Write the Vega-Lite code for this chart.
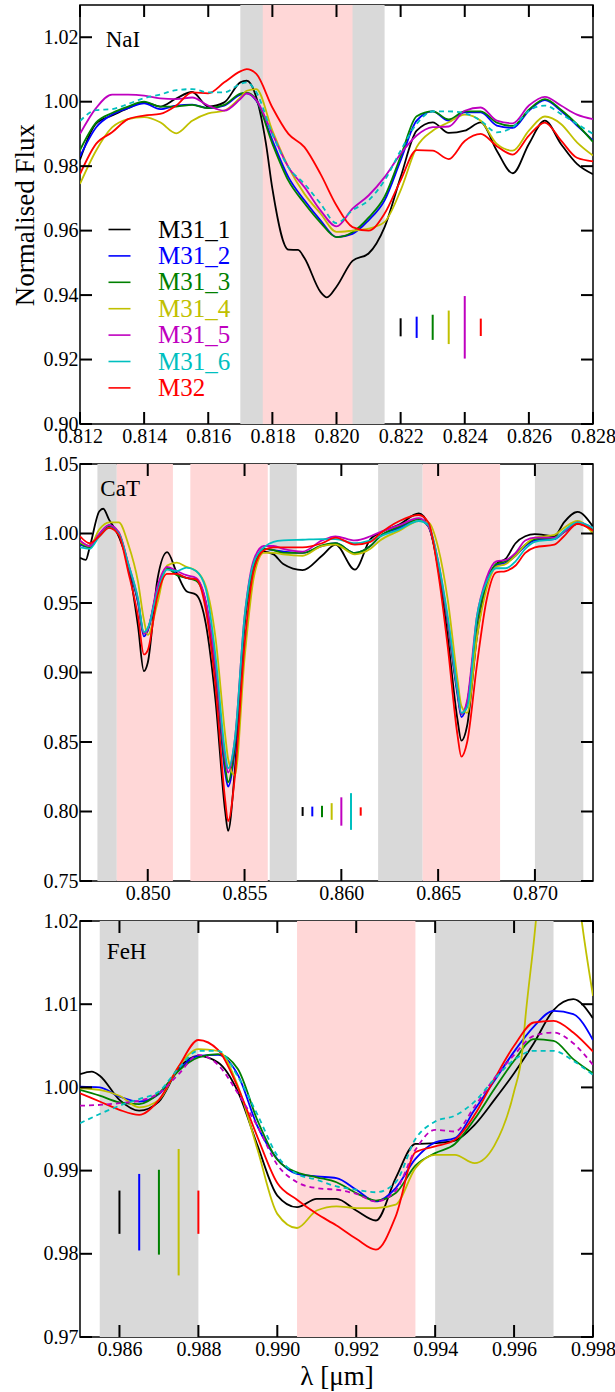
{
  "$schema": "https://vega.github.io/schema/vega-lite/v6.json",
  "padding": {"left": 10, "top": 4, "right": 5, "bottom": 5},
  "background": "white",
  "config": {
    "font": "Liberation Serif",
    "view": {"stroke": "black", "strokeWidth": 1.5},
    "axis": {"labelFont": "Liberation Serif", "titleFont": "Liberation Serif", "labelFontSize": 20, "titleFontSize": 27, "titleFontWeight": "normal", "labelColor": "black", "titleColor": "black", "domain": false, "ticks": false, "grid": false, "labelFlush": false, "labelOverlap": false, "labelPadding": 2}
  },
  "datasets": {
    "nai": [
      {"x": 0.812, "M31_1": 0.982, "M31_2": 0.983, "M31_3": 0.985, "M31_4": 0.9745, "M31_5": 0.990, "M31_6": 0.994, "M32": 0.9775},
      {"x": 0.8125, "M31_1": 0.9932, "M31_2": 0.992, "M31_3": 0.9935, "M31_4": 0.9848, "M31_5": 0.998, "M31_6": 0.9974, "M32": 0.9869},
      {"x": 0.813, "M31_1": 0.9957, "M31_2": 0.996, "M31_3": 0.9965, "M31_4": 0.992, "M31_5": 1.0022, "M31_6": 0.9977, "M32": 0.9905},
      {"x": 0.8135, "M31_1": 0.998, "M31_2": 0.998, "M31_3": 0.9985, "M31_4": 0.9946, "M31_5": 1.0022, "M31_6": 0.9993, "M32": 0.9946},
      {"x": 0.814, "M31_1": 0.9998, "M31_2": 0.9995, "M31_3": 1.0, "M31_4": 0.9952, "M31_5": 1.0019, "M31_6": 1.0011, "M32": 0.9957},
      {"x": 0.8145, "M31_1": 0.9985, "M31_2": 0.9977, "M31_3": 0.9985, "M31_4": 0.9936, "M31_5": 1.001, "M31_6": 1.0022, "M32": 0.9962},
      {"x": 0.815, "M31_1": 1.001, "M31_2": 0.9988, "M31_3": 0.9985, "M31_4": 0.9902, "M31_5": 1.0008, "M31_6": 1.0036, "M32": 0.9988},
      {"x": 0.8155, "M31_1": 1.003, "M31_2": 0.9991, "M31_3": 0.999, "M31_4": 0.9941, "M31_5": 1.0013, "M31_6": 1.0039, "M32": 1.0029},
      {"x": 0.816, "M31_1": 0.9985, "M31_2": 0.998, "M31_3": 0.998, "M31_4": 0.9964, "M31_5": 0.9988, "M31_6": 1.0029, "M32": 1.0026},
      {"x": 0.8165, "M31_1": 0.9998, "M31_2": 0.9988, "M31_3": 0.999, "M31_4": 0.9972, "M31_5": 0.9972, "M31_6": 1.0029, "M32": 1.006},
      {"x": 0.817, "M31_1": 1.006, "M31_2": 1.0022, "M31_3": 1.0025, "M31_4": 1.0013, "M31_5": 1.0008, "M31_6": 1.0055, "M32": 1.0094},
      {"x": 0.8172, "M31_1": 1.0065, "M31_2": 1.0026, "M31_3": 1.0028, "M31_4": 1.0034, "M31_5": 1.0026, "M31_6": 1.006, "M32": 1.0101},
      {"x": 0.8175, "M31_1": 1.0013, "M31_2": 1.0003, "M31_3": 1.0005, "M31_4": 1.0039, "M31_5": 1.0005, "M31_6": 1.0029, "M32": 1.0086},
      {"x": 0.8178, "M31_1": 0.987},
      {"x": 0.818, "M31_1": 0.973, "M31_2": 0.988, "M31_3": 0.987, "M31_4": 0.991, "M31_5": 0.990, "M31_6": 0.990, "M32": 0.9982},
      {"x": 0.8185, "M31_1": 0.9541, "M31_2": 0.9766, "M31_3": 0.9755, "M31_4": 0.9797, "M31_5": 0.9797, "M31_6": 0.9797, "M32": 0.990},
      {"x": 0.8188, "M31_1": 0.954},
      {"x": 0.819, "M31_1": 0.9515, "M31_2": 0.9694, "M31_3": 0.9685, "M31_4": 0.9714, "M31_5": 0.9735, "M31_6": 0.9745, "M32": 0.9859},
      {"x": 0.8195, "M31_1": 0.941, "M31_2": 0.9632, "M31_3": 0.9625, "M31_4": 0.9653, "M31_5": 0.9663, "M31_6": 0.9684, "M32": 0.9776},
      {"x": 0.8197, "M31_1": 0.9393},
      {"x": 0.82, "M31_1": 0.9426, "M31_2": 0.958, "M31_3": 0.958, "M31_4": 0.9596, "M31_5": 0.9613, "M31_6": 0.9623, "M32": 0.9678},
      {"x": 0.8205, "M31_1": 0.9506, "M31_2": 0.959, "M31_3": 0.9595, "M31_4": 0.960, "M31_5": 0.9668, "M31_6": 0.9663, "M32": 0.9611},
      {"x": 0.821, "M31_1": 0.9529, "M31_2": 0.9632, "M31_3": 0.964, "M31_4": 0.9606, "M31_5": 0.9709, "M31_6": 0.9694, "M32": 0.960},
      {"x": 0.8215, "M31_1": 0.9611, "M31_2": 0.9694, "M31_3": 0.9705, "M31_4": 0.9627, "M31_5": 0.9766, "M31_6": 0.9756, "M32": 0.9653},
      {"x": 0.822, "M31_1": 0.9766, "M31_2": 0.9818, "M31_3": 0.983, "M31_4": 0.9725, "M31_5": 0.9838, "M31_6": 0.9848, "M32": 0.9756},
      {"x": 0.8225, "M31_1": 0.991, "M31_2": 0.9941, "M31_3": 0.9955, "M31_4": 0.9859, "M31_5": 0.9895, "M31_6": 0.9931, "M32": 0.985},
      {"x": 0.823, "M31_1": 0.9936, "M31_2": 0.997, "M31_3": 0.997, "M31_4": 0.991, "M31_5": 0.9921, "M31_6": 0.997, "M32": 0.9848},
      {"x": 0.8235, "M31_1": 0.9903, "M31_2": 0.9941, "M31_3": 0.9945, "M31_4": 0.9936, "M31_5": 0.9923, "M31_6": 0.997, "M32": 0.9822},
      {"x": 0.824, "M31_1": 0.991, "M31_2": 0.9967, "M31_3": 0.997, "M31_4": 0.996, "M31_5": 0.9972, "M31_6": 0.9964, "M32": 0.9878},
      {"x": 0.8245, "M31_1": 0.9936, "M31_2": 0.9967, "M31_3": 0.997, "M31_4": 0.9941, "M31_5": 0.9982, "M31_6": 0.9941, "M32": 0.990},
      {"x": 0.825, "M31_1": 0.9848, "M31_2": 0.9926, "M31_3": 0.9935, "M31_4": 0.9869, "M31_5": 0.9941, "M31_6": 0.9905, "M32": 0.9862},
      {"x": 0.8255, "M31_1": 0.9778, "M31_2": 0.9919, "M31_3": 0.9925, "M31_4": 0.9848, "M31_5": 0.9933, "M31_6": 0.9921, "M32": 0.9836},
      {"x": 0.826, "M31_1": 0.9869, "M31_2": 0.9972, "M31_3": 0.9975, "M31_4": 0.991, "M31_5": 0.9988, "M31_6": 0.9972, "M32": 0.9895},
      {"x": 0.8265, "M31_1": 0.9941, "M31_2": 1.0005, "M31_3": 1.0008, "M31_4": 0.9954, "M31_5": 1.0015, "M31_6": 0.9988, "M32": 0.9935},
      {"x": 0.827, "M31_1": 0.9869, "M31_2": 0.9972, "M31_3": 0.9975, "M31_4": 0.9931, "M31_5": 0.9988, "M31_6": 0.9962, "M32": 0.988},
      {"x": 0.8275, "M31_1": 0.9807, "M31_2": 0.9926, "M31_3": 0.993, "M31_4": 0.9874, "M31_5": 0.996, "M31_6": 0.9931, "M32": 0.9826},
      {"x": 0.828, "M31_1": 0.9775, "M31_2": 0.988, "M31_3": 0.9875, "M31_4": 0.9833, "M31_5": 0.9946, "M31_6": 0.990, "M32": 0.9815}
    ],
    "nai_b": [
      {"a": 0.817, "b": 0.8215, "k": "c"},
      {"a": 0.8177, "b": 0.8205, "k": "f"}
    ],
    "nai_e": [
      {"x": 0.822, "s": "M31_1", "lo": 0.9272, "hi": 0.9328},
      {"x": 0.8225, "s": "M31_2", "lo": 0.9267, "hi": 0.9333},
      {"x": 0.823, "s": "M31_3", "lo": 0.9261, "hi": 0.9339},
      {"x": 0.8235, "s": "M31_4", "lo": 0.9248, "hi": 0.9352},
      {"x": 0.824, "s": "M31_5", "lo": 0.9203, "hi": 0.9397},
      {"x": 0.8245, "s": "M32", "lo": 0.9273, "hi": 0.9327}
    ],
    "k1x": [{"v": 0.812, "b": 0.9, "t": 1.03}, {"v": 0.814, "b": 0.9, "t": 1.03}, {"v": 0.816, "b": 0.9, "t": 1.03}, {"v": 0.818, "b": 0.9, "t": 1.03}, {"v": 0.82, "b": 0.9, "t": 1.03}, {"v": 0.822, "b": 0.9, "t": 1.03}, {"v": 0.824, "b": 0.9, "t": 1.03}, {"v": 0.826, "b": 0.9, "t": 1.03}, {"v": 0.828, "b": 0.9, "t": 1.03}],
    "k1y": [{"v": 0.9, "l": 0.812, "r": 0.828}, {"v": 0.92, "l": 0.812, "r": 0.828}, {"v": 0.94, "l": 0.812, "r": 0.828}, {"v": 0.96, "l": 0.812, "r": 0.828}, {"v": 0.98, "l": 0.812, "r": 0.828}, {"v": 1.0, "l": 0.812, "r": 0.828}, {"v": 1.02, "l": 0.812, "r": 0.828}],
    "cat": [
      {"x": 0.8465, "M31_1": 0.9825, "M31_2": 0.992, "M31_3": 0.993, "M31_4": 0.994, "M31_5": 0.995, "M31_6": 0.990, "M32": 0.998},
      {"x": 0.8468, "M31_1": 0.981},
      {"x": 0.847, "M31_1": 0.990, "M31_2": 0.990, "M31_3": 0.990, "M31_4": 0.991, "M31_5": 0.991, "M31_6": 0.989, "M32": 0.993},
      {"x": 0.8475, "M31_1": 1.016, "M31_2": 0.999, "M31_3": 0.999, "M31_4": 1.003, "M31_5": 1.000, "M31_6": 0.998, "M32": 0.998},
      {"x": 0.8477, "M31_1": 1.0178},
      {"x": 0.848, "M31_1": 1.010, "M31_2": 1.006, "M31_3": 1.005, "M31_4": 1.008, "M31_5": 1.006, "M31_6": 1.004, "M32": 1.004},
      {"x": 0.8485, "M31_1": 0.998, "M31_2": 1.000, "M31_3": 1.000, "M31_4": 1.008, "M31_5": 1.001, "M31_6": 1.000, "M32": 0.999},
      {"x": 0.849, "M31_1": 0.9765, "M31_2": 0.976, "M31_3": 0.977, "M31_4": 0.992, "M31_5": 0.978, "M31_6": 0.978, "M32": 0.972},
      {"x": 0.8495, "M31_1": 0.933, "M31_2": 0.950, "M31_3": 0.951, "M31_4": 0.965, "M31_5": 0.952, "M31_6": 0.953, "M32": 0.940},
      {"x": 0.8498, "M31_1": 0.901, "M31_2": 0.926, "M31_3": 0.928, "M31_4": 0.938, "M31_5": 0.928, "M31_6": 0.929, "M32": 0.913},
      {"x": 0.85, "M31_1": 0.907, "M31_2": 0.930, "M31_3": 0.931, "M31_4": 0.927, "M31_5": 0.931, "M31_6": 0.932, "M32": 0.916},
      {"x": 0.8505, "M31_1": 0.967, "M31_2": 0.960, "M31_3": 0.960, "M31_4": 0.950, "M31_5": 0.962, "M31_6": 0.958, "M32": 0.955},
      {"x": 0.851, "M31_1": 0.9866, "M31_2": 0.975, "M31_3": 0.975, "M31_4": 0.977, "M31_5": 0.976, "M31_6": 0.974, "M32": 0.971},
      {"x": 0.8515, "M31_1": 0.9717, "M31_2": 0.971, "M31_3": 0.970, "M31_4": 0.979, "M31_5": 0.973, "M31_6": 0.973, "M32": 0.971},
      {"x": 0.852, "M31_1": 0.9585, "M31_2": 0.968, "M31_3": 0.968, "M31_4": 0.976, "M31_5": 0.970, "M31_6": 0.9755, "M32": 0.968},
      {"x": 0.8525, "M31_1": 0.956, "M31_2": 0.967, "M31_3": 0.966, "M31_4": 0.973, "M31_5": 0.968, "M31_6": 0.973, "M32": 0.967},
      {"x": 0.853, "M31_1": 0.935, "M31_2": 0.950, "M31_3": 0.950, "M31_4": 0.962, "M31_5": 0.951, "M31_6": 0.960, "M32": 0.945},
      {"x": 0.8535, "M31_1": 0.880, "M31_2": 0.900, "M31_3": 0.903, "M31_4": 0.925, "M31_5": 0.905, "M31_6": 0.912, "M32": 0.890},
      {"x": 0.854, "M31_1": 0.800, "M31_2": 0.828, "M31_3": 0.832, "M31_4": 0.855, "M31_5": 0.838, "M31_6": 0.842, "M32": 0.808},
      {"x": 0.85415, "M31_1": 0.786, "M31_2": 0.818, "M31_3": 0.821, "M31_4": 0.838, "M31_5": 0.828, "M31_6": 0.831, "M32": 0.793},
      {"x": 0.8545, "M31_1": 0.830, "M31_2": 0.845, "M31_3": 0.848, "M31_4": 0.826, "M31_5": 0.852, "M31_6": 0.852, "M32": 0.825},
      {"x": 0.855, "M31_1": 0.935, "M31_2": 0.935, "M31_3": 0.935, "M31_4": 0.910, "M31_5": 0.940, "M31_6": 0.940, "M32": 0.920},
      {"x": 0.8555, "M31_1": 0.975, "M31_2": 0.978, "M31_3": 0.978, "M31_4": 0.970, "M31_5": 0.982, "M31_6": 0.980, "M32": 0.975},
      {"x": 0.856, "M31_1": 0.987, "M31_2": 0.989, "M31_3": 0.989, "M31_4": 0.986, "M31_5": 0.991, "M31_6": 0.990, "M32": 0.988},
      {"x": 0.8565, "M31_1": 0.985, "M31_2": 0.988, "M31_3": 0.988, "M31_4": 0.986, "M31_5": 0.991, "M31_6": 0.994, "M32": 0.990},
      {"x": 0.857, "M31_1": 0.978, "M31_2": 0.987, "M31_3": 0.986, "M31_4": 0.985, "M31_5": 0.989, "M31_6": 0.995, "M32": 0.990},
      {"x": 0.858, "M31_1": 0.9736, "M31_2": 0.986, "M31_3": 0.986, "M31_4": 0.984, "M31_5": 0.987, "M31_6": 0.9955, "M32": 0.990},
      {"x": 0.859, "M31_1": 0.984, "M31_2": 0.991, "M31_3": 0.9915, "M31_4": 0.991, "M31_5": 0.995, "M31_6": 0.996, "M32": 0.993},
      {"x": 0.8597, "M31_1": 0.992, "M31_2": 0.993, "M31_3": 0.993, "M31_4": 0.992, "M31_5": 0.998, "M31_6": 0.996, "M32": 0.997},
      {"x": 0.8607, "M31_1": 0.974, "M31_2": 0.986, "M31_3": 0.986, "M31_4": 0.985, "M31_5": 0.995, "M31_6": 0.993, "M32": 0.992},
      {"x": 0.8615, "M31_1": 0.996, "M31_2": 0.991, "M31_3": 0.991, "M31_4": 0.989, "M31_5": 0.998, "M31_6": 0.995, "M32": 0.994},
      {"x": 0.862, "M31_1": 1.0005, "M31_2": 0.998, "M31_3": 0.998, "M31_4": 0.995, "M31_5": 1.001, "M31_6": 0.998, "M32": 1.000},
      {"x": 0.863, "M31_1": 1.0065, "M31_2": 1.004, "M31_3": 1.005, "M31_4": 1.002, "M31_5": 1.006, "M31_6": 1.003, "M32": 1.009},
      {"x": 0.864, "M31_1": 1.0144, "M31_2": 1.010, "M31_3": 1.010, "M31_4": 1.009, "M31_5": 1.011, "M31_6": 1.009, "M32": 1.0133},
      {"x": 0.8645, "M31_1": 1.006, "M31_2": 1.005, "M31_3": 1.005, "M31_4": 1.008, "M31_5": 1.005, "M31_6": 1.006, "M32": 1.008},
      {"x": 0.865, "M31_1": 0.975, "M31_2": 0.978, "M31_3": 0.978, "M31_4": 0.990, "M31_5": 0.980, "M31_6": 0.980, "M32": 0.972},
      {"x": 0.8655, "M31_1": 0.925, "M31_2": 0.935, "M31_3": 0.935, "M31_4": 0.952, "M31_5": 0.937, "M31_6": 0.940, "M32": 0.918},
      {"x": 0.866, "M31_1": 0.866, "M31_2": 0.884, "M31_3": 0.886, "M31_4": 0.895, "M31_5": 0.887, "M31_6": 0.888, "M32": 0.855},
      {"x": 0.8662, "M31_1": 0.851, "M31_2": 0.868, "M31_3": 0.870, "M31_4": 0.876, "M31_5": 0.870, "M31_6": 0.871, "M32": 0.8395},
      {"x": 0.8665, "M31_1": 0.862, "M31_2": 0.878, "M31_3": 0.878, "M31_4": 0.871, "M31_5": 0.880, "M31_6": 0.875, "M32": 0.850},
      {"x": 0.867, "M31_1": 0.925, "M31_2": 0.935, "M31_3": 0.935, "M31_4": 0.925, "M31_5": 0.940, "M31_6": 0.940, "M32": 0.905},
      {"x": 0.8675, "M31_1": 0.963, "M31_2": 0.965, "M31_3": 0.965, "M31_4": 0.960, "M31_5": 0.968, "M31_6": 0.965, "M32": 0.952},
      {"x": 0.868, "M31_1": 0.978, "M31_2": 0.977, "M31_3": 0.978, "M31_4": 0.976, "M31_5": 0.980, "M31_6": 0.975, "M32": 0.972},
      {"x": 0.8685, "M31_1": 0.982, "M31_2": 0.979, "M31_3": 0.980, "M31_4": 0.978, "M31_5": 0.981, "M31_6": 0.975, "M32": 0.973},
      {"x": 0.869, "M31_1": 0.993, "M31_2": 0.984, "M31_3": 0.985, "M31_4": 0.984, "M31_5": 0.986, "M31_6": 0.980, "M32": 0.977},
      {"x": 0.8695, "M31_1": 0.998, "M31_2": 0.991, "M31_3": 0.992, "M31_4": 0.992, "M31_5": 0.995, "M31_6": 0.989, "M32": 0.986},
      {"x": 0.87, "M31_1": 0.9995, "M31_2": 0.995, "M31_3": 0.996, "M31_4": 0.997, "M31_5": 0.997, "M31_6": 0.994, "M32": 0.990},
      {"x": 0.871, "M31_1": 0.998, "M31_2": 0.996, "M31_3": 0.997, "M31_4": 0.999, "M31_5": 0.997, "M31_6": 0.996, "M32": 0.992},
      {"x": 0.8715, "M31_1": 1.008, "M31_2": 1.001, "M31_3": 1.001, "M31_4": 1.004, "M31_5": 1.001, "M31_6": 1.002, "M32": 0.998},
      {"x": 0.8722, "M31_1": 1.0155, "M31_2": 1.007, "M31_3": 1.007, "M31_4": 1.009, "M31_5": 1.008, "M31_6": 1.008, "M32": 1.007},
      {"x": 0.873, "M31_1": 1.005, "M31_2": 1.003, "M31_3": 1.003, "M31_4": 1.000, "M31_5": 1.004, "M31_6": 1.004, "M32": 1.002}
    ],
    "cat_b": [
      {"a": 0.8474, "b": 0.8484, "k": "c"},
      {"a": 0.8563, "b": 0.8577, "k": "c"},
      {"a": 0.8619, "b": 0.8642, "k": "c"},
      {"a": 0.87, "b": 0.8725, "k": "c"},
      {"a": 0.8484, "b": 0.8513, "k": "f"},
      {"a": 0.8522, "b": 0.8562, "k": "f"},
      {"a": 0.8642, "b": 0.8682, "k": "f"}
    ],
    "cat_e": [
      {"x": 0.858, "s": "M31_1", "lo": 0.7968, "hi": 0.8032},
      {"x": 0.8585, "s": "M31_2", "lo": 0.7965, "hi": 0.8035},
      {"x": 0.859, "s": "M31_3", "lo": 0.7959, "hi": 0.8041},
      {"x": 0.8595, "s": "M31_4", "lo": 0.794, "hi": 0.806},
      {"x": 0.86, "s": "M31_5", "lo": 0.7898, "hi": 0.8102},
      {"x": 0.8605, "s": "M31_6", "lo": 0.7868, "hi": 0.8132},
      {"x": 0.861, "s": "M32", "lo": 0.797, "hi": 0.803}
    ],
    "k2x": [{"v": 0.85, "b": 0.75, "t": 1.05}, {"v": 0.855, "b": 0.75, "t": 1.05}, {"v": 0.86, "b": 0.75, "t": 1.05}, {"v": 0.865, "b": 0.75, "t": 1.05}, {"v": 0.87, "b": 0.75, "t": 1.05}],
    "k2y": [{"v": 0.75, "l": 0.8465, "r": 0.873}, {"v": 0.8, "l": 0.8465, "r": 0.873}, {"v": 0.85, "l": 0.8465, "r": 0.873}, {"v": 0.9, "l": 0.8465, "r": 0.873}, {"v": 0.95, "l": 0.8465, "r": 0.873}, {"v": 1.0, "l": 0.8465, "r": 0.873}, {"v": 1.05, "l": 0.8465, "r": 0.873}],
    "feh": [
      {"x": 0.985, "M31_1": 1.0016, "M31_2": 1.0001, "M31_3": 0.9997, "M31_4": 0.9999, "M31_5": 0.9978, "M31_6": 0.9957, "M32": 0.9993},
      {"x": 0.9853, "M31_1": 1.0019},
      {"x": 0.9855, "M31_1": 1.0014, "M31_2": 1.0, "M31_3": 0.999, "M31_4": 0.9997, "M31_5": 0.9979, "M31_6": 0.9968, "M32": 0.9983},
      {"x": 0.986, "M31_1": 0.9985, "M31_2": 0.9989, "M31_3": 0.9982, "M31_4": 0.999, "M31_5": 0.9981, "M31_6": 0.9978, "M32": 0.9973},
      {"x": 0.9865, "M31_1": 0.9972, "M31_2": 0.9983, "M31_3": 0.998, "M31_4": 0.9976, "M31_5": 0.9984, "M31_6": 0.9986, "M32": 0.9967},
      {"x": 0.987, "M31_1": 0.9983, "M31_2": 0.9992, "M31_3": 0.9993, "M31_4": 0.9985, "M31_5": 0.9993, "M31_6": 0.9995, "M32": 0.9985},
      {"x": 0.9875, "M31_1": 1.0023, "M31_2": 1.0021, "M31_3": 1.002, "M31_4": 1.0025, "M31_5": 1.0016, "M31_6": 1.0023, "M32": 1.0025},
      {"x": 0.988, "M31_1": 1.0038, "M31_2": 1.0038, "M31_3": 1.0036, "M31_4": 1.0046, "M31_5": 1.0039, "M31_6": 1.0044, "M32": 1.0057},
      {"x": 0.9885, "M31_1": 1.003, "M31_2": 1.0039, "M31_3": 1.004, "M31_4": 1.0044, "M31_5": 1.0027, "M31_6": 1.0044, "M32": 1.0045},
      {"x": 0.989, "M31_1": 0.9995, "M31_2": 1.0015, "M31_3": 1.0022, "M31_4": 1.0002, "M31_5": 0.9993, "M31_6": 1.0013, "M32": 1.0},
      {"x": 0.9895, "M31_1": 0.993, "M31_2": 0.9953, "M31_3": 0.996, "M31_4": 0.9925, "M31_5": 0.9953, "M31_6": 0.9967, "M32": 0.994},
      {"x": 0.99, "M31_1": 0.987, "M31_2": 0.9914, "M31_3": 0.9913, "M31_4": 0.9848, "M31_5": 0.9907, "M31_6": 0.9918, "M32": 0.9885},
      {"x": 0.9905, "M31_1": 0.9856, "M31_2": 0.9896, "M31_3": 0.9898, "M31_4": 0.9831, "M31_5": 0.9886, "M31_6": 0.9896, "M32": 0.9865},
      {"x": 0.991, "M31_1": 0.9866, "M31_2": 0.9893, "M31_3": 0.9892, "M31_4": 0.9852, "M31_5": 0.9879, "M31_6": 0.9889, "M32": 0.9848},
      {"x": 0.9915, "M31_1": 0.9866, "M31_2": 0.9891, "M31_3": 0.9886, "M31_4": 0.9857, "M31_5": 0.9877, "M31_6": 0.9881, "M32": 0.9834},
      {"x": 0.992, "M31_1": 0.9852, "M31_2": 0.9877, "M31_3": 0.9873, "M31_4": 0.9855, "M31_5": 0.9872, "M31_6": 0.9877, "M32": 0.9818},
      {"x": 0.9925, "M31_1": 0.984, "M31_2": 0.9863, "M31_3": 0.9864, "M31_4": 0.9855, "M31_5": 0.9863, "M31_6": 0.9874, "M32": 0.9805},
      {"x": 0.993, "M31_1": 0.9891, "M31_2": 0.9879, "M31_3": 0.9873, "M31_4": 0.9859, "M31_5": 0.9876, "M31_6": 0.9886, "M32": 0.9845},
      {"x": 0.9935, "M31_1": 0.9932, "M31_2": 0.9914, "M31_3": 0.9906, "M31_4": 0.9903, "M31_5": 0.9925, "M31_6": 0.9938, "M32": 0.9922},
      {"x": 0.994, "M31_1": 0.9933, "M31_2": 0.9934, "M31_3": 0.9921, "M31_4": 0.9919, "M31_5": 0.9949, "M31_6": 0.9959, "M32": 0.9929},
      {"x": 0.9945, "M31_1": 0.9936, "M31_2": 0.9939, "M31_3": 0.9932, "M31_4": 0.9919, "M31_5": 0.9947, "M31_6": 0.9966, "M32": 0.9937},
      {"x": 0.995, "M31_1": 0.9955, "M31_2": 0.9973, "M31_3": 0.9962, "M31_4": 0.9909, "M31_5": 0.9977, "M31_6": 0.9983, "M32": 0.9967},
      {"x": 0.9955, "M31_1": 0.9985, "M31_2": 1.0008, "M31_3": 0.9998, "M31_4": 0.993, "M31_5": 1.0011, "M31_6": 1.001, "M32": 1.001},
      {"x": 0.996, "M31_1": 1.0017, "M31_2": 1.0043, "M31_3": 1.0032, "M31_4": 0.9995, "M31_5": 1.0039, "M31_6": 1.0033, "M32": 1.005},
      {"x": 0.9962, "M31_4": 1.004},
      {"x": 0.9963, "M31_4": 1.009},
      {"x": 0.9965, "M31_1": 1.0053, "M31_2": 1.0073, "M31_3": 1.0058, "M31_4": 1.0175, "M31_5": 1.0062, "M31_6": 1.0044, "M32": 1.0078},
      {"x": 0.9968, "M31_4": 1.032},
      {"x": 0.997, "M31_1": 1.0093, "M31_2": 1.0092, "M31_3": 1.0056, "M31_5": 1.0066, "M31_6": 1.0044, "M32": 1.008},
      {"x": 0.9971, "M31_4": 1.04},
      {"x": 0.9974, "M31_4": 1.033},
      {"x": 0.9975, "M31_1": 1.0106, "M31_2": 1.0088, "M31_3": 1.0034, "M31_5": 1.0053, "M31_6": 1.0032, "M32": 1.0066},
      {"x": 0.9977, "M31_4": 1.0205},
      {"x": 0.998, "M31_1": 1.0083, "M31_2": 1.0057, "M31_3": 1.0017, "M31_4": 1.011, "M31_5": 1.0027, "M31_6": 1.0015, "M32": 1.0043}
    ],
    "feh_b": [
      {"a": 0.9855, "b": 0.988, "k": "c"},
      {"a": 0.994, "b": 0.997, "k": "c"},
      {"a": 0.9905, "b": 0.9935, "k": "f"}
    ],
    "feh_e": [
      {"x": 0.986, "s": "M31_1", "lo": 0.9824, "hi": 0.9876},
      {"x": 0.9865, "s": "M31_2", "lo": 0.9804, "hi": 0.9896},
      {"x": 0.987, "s": "M31_3", "lo": 0.9799, "hi": 0.9901},
      {"x": 0.9875, "s": "M31_4", "lo": 0.9774, "hi": 0.9926},
      {"x": 0.988, "s": "M32", "lo": 0.9824, "hi": 0.9876}
    ],
    "k3x": [{"v": 0.986, "b": 0.97, "t": 1.02}, {"v": 0.988, "b": 0.97, "t": 1.02}, {"v": 0.99, "b": 0.97, "t": 1.02}, {"v": 0.992, "b": 0.97, "t": 1.02}, {"v": 0.994, "b": 0.97, "t": 1.02}, {"v": 0.996, "b": 0.97, "t": 1.02}, {"v": 0.998, "b": 0.97, "t": 1.02}],
    "k3y": [{"v": 0.97, "l": 0.985, "r": 0.998}, {"v": 0.98, "l": 0.985, "r": 0.998}, {"v": 0.99, "l": 0.985, "r": 0.998}, {"v": 1.0, "l": 0.985, "r": 0.998}, {"v": 1.01, "l": 0.985, "r": 0.998}, {"v": 1.02, "l": 0.985, "r": 0.998}]
  },
  "spacing": 40,
  "bounds": "flush",
  "resolve": {"scale": {"color": "shared"}, "legend": {"color": "independent"}},
  "vconcat": [
    {
      "width": 513, "height": 419,
      "resolve": {"axis": {"x": "independent", "y": "independent"}},
      "layer": [
        {"data": {"name": "nai_b"}, "transform": [{"filter": "datum.k == 'c'"}], "mark": {"type": "rect", "color": "#d9d9d9"},
         "encoding": {"x": {"field": "a", "type": "quantitative", "scale": {"domain": [0.812, 0.828], "nice": false, "zero": false}, "axis": null}, "x2": {"field": "b"}}},
        {"data": {"name": "nai_b"}, "transform": [{"filter": "datum.k == 'f'"}], "mark": {"type": "rect", "color": "#ffd7d7"},
         "encoding": {"x": {"field": "a", "type": "quantitative", "scale": {"domain": [0.812, 0.828], "nice": false, "zero": false}, "axis": null}, "x2": {"field": "b"}}},
        {"data": {"name": "nai"}, "transform": [{"fold": ["M31_1", "M31_2", "M31_3", "M31_4", "M31_5", "M31_6", "M32"], "as": ["s", "y"]}, {"filter": "isValid(datum.y) && datum.s != 'M31_6'"}],
         "mark": {"type": "line", "strokeWidth": 1.8, "interpolate": "monotone", "clip": true},
         "encoding": {
           "x": {"field": "x", "type": "quantitative", "scale": {"domain": [0.812, 0.828], "nice": false, "zero": false}, "axis": {"orient": "bottom", "values": [0.812, 0.814, 0.816, 0.818, 0.82, 0.822, 0.824, 0.826, 0.828], "format": ".3f", "title": null}},
           "y": {"field": "y", "type": "quantitative", "scale": {"domain": [0.9, 1.03], "nice": false, "zero": false}, "axis": {"orient": "left", "values": [0.9, 0.92, 0.94, 0.96, 0.98, 1.0, 1.02], "format": ".2f", "title": "Normalised Flux", "titleX": -47, "titleY": 209.5, "titleAngle": -90, "titleBaseline": "alphabetic", "titleAlign": "center"}},
           "color": {"field": "s", "type": "nominal", "scale": {"domain": ["M31_1", "M31_2", "M31_3", "M31_4", "M31_5", "M31_6", "M32"], "range": ["#000000", "#0000ff", "#008000", "#c0c000", "#bf00bf", "#00bfbf", "#ff0000"]},
             "legend": {"orient": "none", "legendX": 27, "legendY": 212, "title": null, "symbolType": "stroke", "symbolSize": 484, "symbolStrokeWidth": 1.6, "labelFontSize": 25, "labelFont": "Liberation Serif", "labelOffset": 26, "rowPadding": 0.4, "padding": 0, "labelLimit": 300,
               "encode": {"labels": {"update": {"fill": {"scale": "color", "field": "value"}}}}}}
         }},
        {"data": {"name": "nai"}, "transform": [{"fold": ["M31_1", "M31_2", "M31_3", "M31_4", "M31_5", "M31_6", "M32"], "as": ["s", "y"]}, {"filter": "isValid(datum.y) && datum.s == 'M31_6'"}],
         "mark": {"type": "line", "strokeWidth": 1.8, "interpolate": "monotone", "clip": true, "strokeDash": [5, 4]},
         "encoding": {
           "x": {"field": "x", "type": "quantitative", "scale": {"domain": [0.812, 0.828], "nice": false, "zero": false}, "axis": null},
           "y": {"field": "y", "type": "quantitative", "scale": {"domain": [0.9, 1.03], "nice": false, "zero": false}, "axis": null},
           "color": {"field": "s", "type": "nominal", "legend": null}
         }},
        {"data": {"name": "nai_e"}, "mark": {"type": "rule", "strokeWidth": 2},
         "encoding": {
           "x": {"field": "x", "type": "quantitative", "scale": {"domain": [0.812, 0.828], "nice": false, "zero": false}, "axis": null},
           "y": {"field": "lo", "type": "quantitative", "scale": {"domain": [0.9, 1.03], "nice": false, "zero": false}, "axis": null},
           "y2": {"field": "hi"},
           "color": {"field": "s", "type": "nominal", "legend": null}
         }},
        {"data": {"values": [{"x": 0.8128, "y": 1.0169, "t": "NaI"}]}, "mark": {"type": "text", "align": "left", "baseline": "alphabetic", "fontSize": 23, "font": "Liberation Serif", "color": "black"},
         "encoding": {
           "x": {"field": "x", "type": "quantitative", "scale": {"domain": [0.812, 0.828], "nice": false, "zero": false}, "axis": null},
           "y": {"field": "y", "type": "quantitative", "scale": {"domain": [0.9, 1.03], "nice": false, "zero": false}, "axis": null},
           "text": {"field": "t"}
         }},
        {"data": {"name": "k1x"}, "mark": {"type": "tick", "orient": "vertical", "size": 12, "thickness": 2, "color": "#000000", "opacity": 1, "yOffset": -6},
         "encoding": {"x": {"field": "v", "type": "quantitative", "scale": {"domain": [0.812, 0.828], "nice": false, "zero": false}, "axis": null},
           "y": {"field": "b", "type": "quantitative", "scale": {"domain": [0.9, 1.03], "nice": false, "zero": false}, "axis": null}}},
        {"data": {"name": "k1x"}, "mark": {"type": "tick", "orient": "vertical", "size": 12, "thickness": 2, "color": "#000000", "opacity": 1, "yOffset": 6},
         "encoding": {"x": {"field": "v", "type": "quantitative", "scale": {"domain": [0.812, 0.828], "nice": false, "zero": false}, "axis": null},
           "y": {"field": "t", "type": "quantitative", "scale": {"domain": [0.9, 1.03], "nice": false, "zero": false}, "axis": null}}},
        {"data": {"name": "k1y"}, "mark": {"type": "tick", "orient": "horizontal", "size": 12, "thickness": 2, "color": "#000000", "opacity": 1, "xOffset": 6},
         "encoding": {"y": {"field": "v", "type": "quantitative", "scale": {"domain": [0.9, 1.03], "nice": false, "zero": false}, "axis": null},
           "x": {"field": "l", "type": "quantitative", "scale": {"domain": [0.812, 0.828], "nice": false, "zero": false}, "axis": null}}},
        {"data": {"name": "k1y"}, "mark": {"type": "tick", "orient": "horizontal", "size": 12, "thickness": 2, "color": "#000000", "opacity": 1, "xOffset": -6},
         "encoding": {"y": {"field": "v", "type": "quantitative", "scale": {"domain": [0.9, 1.03], "nice": false, "zero": false}, "axis": null},
           "x": {"field": "r", "type": "quantitative", "scale": {"domain": [0.812, 0.828], "nice": false, "zero": false}, "axis": null}}}
      ]
    },
    {
      "width": 513, "height": 417,
      "resolve": {"axis": {"x": "independent", "y": "independent"}},
      "layer": [
        {"data": {"name": "cat_b"}, "transform": [{"filter": "datum.k == 'c'"}], "mark": {"type": "rect", "color": "#d9d9d9"},
         "encoding": {"x": {"field": "a", "type": "quantitative", "scale": {"domain": [0.8465, 0.873], "nice": false, "zero": false}, "axis": null}, "x2": {"field": "b"}}},
        {"data": {"name": "cat_b"}, "transform": [{"filter": "datum.k == 'f'"}], "mark": {"type": "rect", "color": "#ffd7d7"},
         "encoding": {"x": {"field": "a", "type": "quantitative", "scale": {"domain": [0.8465, 0.873], "nice": false, "zero": false}, "axis": null}, "x2": {"field": "b"}}},
        {"data": {"name": "cat"}, "transform": [{"fold": ["M31_1", "M31_2", "M31_3", "M31_4", "M31_5", "M31_6", "M32"], "as": ["s", "y"]}, {"filter": "isValid(datum.y)"}],
         "mark": {"type": "line", "strokeWidth": 1.8, "interpolate": "monotone", "clip": true},
         "encoding": {
           "x": {"field": "x", "type": "quantitative", "scale": {"domain": [0.8465, 0.873], "nice": false, "zero": false}, "axis": {"orient": "bottom", "values": [0.85, 0.855, 0.86, 0.865, 0.87], "format": ".3f", "title": null}},
           "y": {"field": "y", "type": "quantitative", "scale": {"domain": [0.75, 1.05], "nice": false, "zero": false}, "axis": {"orient": "left", "values": [0.75, 0.8, 0.85, 0.9, 0.95, 1.0, 1.05], "format": ".2f", "title": null}},
           "color": {"field": "s", "type": "nominal", "legend": null}
         }},
        {"data": {"name": "cat_e"}, "mark": {"type": "rule", "strokeWidth": 2},
         "encoding": {
           "x": {"field": "x", "type": "quantitative", "scale": {"domain": [0.8465, 0.873], "nice": false, "zero": false}, "axis": null},
           "y": {"field": "lo", "type": "quantitative", "scale": {"domain": [0.75, 1.05], "nice": false, "zero": false}, "axis": null},
           "y2": {"field": "hi"},
           "color": {"field": "s", "type": "nominal", "legend": null}
         }},
        {"data": {"values": [{"x": 0.84755, "y": 1.0267, "t": "CaT"}]}, "mark": {"type": "text", "align": "left", "baseline": "alphabetic", "fontSize": 23, "font": "Liberation Serif", "color": "black"},
         "encoding": {
           "x": {"field": "x", "type": "quantitative", "scale": {"domain": [0.8465, 0.873], "nice": false, "zero": false}, "axis": null},
           "y": {"field": "y", "type": "quantitative", "scale": {"domain": [0.75, 1.05], "nice": false, "zero": false}, "axis": null},
           "text": {"field": "t"}
         }},
        {"data": {"name": "k2x"}, "mark": {"type": "tick", "orient": "vertical", "size": 12, "thickness": 2, "color": "#000000", "opacity": 1, "yOffset": -6},
         "encoding": {"x": {"field": "v", "type": "quantitative", "scale": {"domain": [0.8465, 0.873], "nice": false, "zero": false}, "axis": null},
           "y": {"field": "b", "type": "quantitative", "scale": {"domain": [0.75, 1.05], "nice": false, "zero": false}, "axis": null}}},
        {"data": {"name": "k2x"}, "mark": {"type": "tick", "orient": "vertical", "size": 12, "thickness": 2, "color": "#000000", "opacity": 1, "yOffset": 6},
         "encoding": {"x": {"field": "v", "type": "quantitative", "scale": {"domain": [0.8465, 0.873], "nice": false, "zero": false}, "axis": null},
           "y": {"field": "t", "type": "quantitative", "scale": {"domain": [0.75, 1.05], "nice": false, "zero": false}, "axis": null}}},
        {"data": {"name": "k2y"}, "mark": {"type": "tick", "orient": "horizontal", "size": 12, "thickness": 2, "color": "#000000", "opacity": 1, "xOffset": 6},
         "encoding": {"y": {"field": "v", "type": "quantitative", "scale": {"domain": [0.75, 1.05], "nice": false, "zero": false}, "axis": null},
           "x": {"field": "l", "type": "quantitative", "scale": {"domain": [0.8465, 0.873], "nice": false, "zero": false}, "axis": null}}},
        {"data": {"name": "k2y"}, "mark": {"type": "tick", "orient": "horizontal", "size": 12, "thickness": 2, "color": "#000000", "opacity": 1, "xOffset": -6},
         "encoding": {"y": {"field": "v", "type": "quantitative", "scale": {"domain": [0.75, 1.05], "nice": false, "zero": false}, "axis": null},
           "x": {"field": "r", "type": "quantitative", "scale": {"domain": [0.8465, 0.873], "nice": false, "zero": false}, "axis": null}}}
      ]
    },
    {
      "width": 513, "height": 416,
      "resolve": {"axis": {"x": "independent", "y": "independent"}},
      "layer": [
        {"data": {"name": "feh_b"}, "transform": [{"filter": "datum.k == 'c'"}], "mark": {"type": "rect", "color": "#d9d9d9"},
         "encoding": {"x": {"field": "a", "type": "quantitative", "scale": {"domain": [0.985, 0.998], "nice": false, "zero": false}, "axis": null}, "x2": {"field": "b"}}},
        {"data": {"name": "feh_b"}, "transform": [{"filter": "datum.k == 'f'"}], "mark": {"type": "rect", "color": "#ffd7d7"},
         "encoding": {"x": {"field": "a", "type": "quantitative", "scale": {"domain": [0.985, 0.998], "nice": false, "zero": false}, "axis": null}, "x2": {"field": "b"}}},
        {"data": {"name": "feh"}, "transform": [{"fold": ["M31_1", "M31_2", "M31_3", "M31_4", "M31_5", "M31_6", "M32"], "as": ["s", "y"]}, {"filter": "isValid(datum.y) && datum.s != 'M31_5' && datum.s != 'M31_6'"}],
         "mark": {"type": "line", "strokeWidth": 1.8, "interpolate": "monotone", "clip": true},
         "encoding": {
           "x": {"field": "x", "type": "quantitative", "scale": {"domain": [0.985, 0.998], "nice": false, "zero": false}, "axis": {"orient": "bottom", "values": [0.986, 0.988, 0.99, 0.992, 0.994, 0.996, 0.998], "format": ".3f", "title": "λ [μm]", "titlePadding": 4}},
           "y": {"field": "y", "type": "quantitative", "scale": {"domain": [0.97, 1.02], "nice": false, "zero": false}, "axis": {"orient": "left", "values": [0.97, 0.98, 0.99, 1.0, 1.01, 1.02], "format": ".2f", "title": null}},
           "color": {"field": "s", "type": "nominal", "legend": null}
         }},
        {"data": {"name": "feh"}, "transform": [{"fold": ["M31_1", "M31_2", "M31_3", "M31_4", "M31_5", "M31_6", "M32"], "as": ["s", "y"]}, {"filter": "isValid(datum.y) && (datum.s == 'M31_5' || datum.s == 'M31_6')"}],
         "mark": {"type": "line", "strokeWidth": 1.8, "interpolate": "monotone", "clip": true, "strokeDash": [5, 4]},
         "encoding": {
           "x": {"field": "x", "type": "quantitative", "scale": {"domain": [0.985, 0.998], "nice": false, "zero": false}, "axis": null},
           "y": {"field": "y", "type": "quantitative", "scale": {"domain": [0.97, 1.02], "nice": false, "zero": false}, "axis": null},
           "color": {"field": "s", "type": "nominal", "legend": null}
         }},
        {"data": {"name": "feh_e"}, "mark": {"type": "rule", "strokeWidth": 2},
         "encoding": {
           "x": {"field": "x", "type": "quantitative", "scale": {"domain": [0.985, 0.998], "nice": false, "zero": false}, "axis": null},
           "y": {"field": "lo", "type": "quantitative", "scale": {"domain": [0.97, 1.02], "nice": false, "zero": false}, "axis": null},
           "y2": {"field": "hi"},
           "color": {"field": "s", "type": "nominal", "legend": null}
         }},
        {"data": {"values": [{"x": 0.98568, "y": 1.0154, "t": "FeH"}]}, "mark": {"type": "text", "align": "left", "baseline": "alphabetic", "fontSize": 23, "font": "Liberation Serif", "color": "black"},
         "encoding": {
           "x": {"field": "x", "type": "quantitative", "scale": {"domain": [0.985, 0.998], "nice": false, "zero": false}, "axis": null},
           "y": {"field": "y", "type": "quantitative", "scale": {"domain": [0.97, 1.02], "nice": false, "zero": false}, "axis": null},
           "text": {"field": "t"}
         }},
        {"data": {"name": "k3x"}, "mark": {"type": "tick", "orient": "vertical", "size": 12, "thickness": 2, "color": "#000000", "opacity": 1, "yOffset": -6},
         "encoding": {"x": {"field": "v", "type": "quantitative", "scale": {"domain": [0.985, 0.998], "nice": false, "zero": false}, "axis": null},
           "y": {"field": "b", "type": "quantitative", "scale": {"domain": [0.97, 1.02], "nice": false, "zero": false}, "axis": null}}},
        {"data": {"name": "k3x"}, "mark": {"type": "tick", "orient": "vertical", "size": 12, "thickness": 2, "color": "#000000", "opacity": 1, "yOffset": 6},
         "encoding": {"x": {"field": "v", "type": "quantitative", "scale": {"domain": [0.985, 0.998], "nice": false, "zero": false}, "axis": null},
           "y": {"field": "t", "type": "quantitative", "scale": {"domain": [0.97, 1.02], "nice": false, "zero": false}, "axis": null}}},
        {"data": {"name": "k3y"}, "mark": {"type": "tick", "orient": "horizontal", "size": 12, "thickness": 2, "color": "#000000", "opacity": 1, "xOffset": 6},
         "encoding": {"y": {"field": "v", "type": "quantitative", "scale": {"domain": [0.97, 1.02], "nice": false, "zero": false}, "axis": null},
           "x": {"field": "l", "type": "quantitative", "scale": {"domain": [0.985, 0.998], "nice": false, "zero": false}, "axis": null}}},
        {"data": {"name": "k3y"}, "mark": {"type": "tick", "orient": "horizontal", "size": 12, "thickness": 2, "color": "#000000", "opacity": 1, "xOffset": -6},
         "encoding": {"y": {"field": "v", "type": "quantitative", "scale": {"domain": [0.97, 1.02], "nice": false, "zero": false}, "axis": null},
           "x": {"field": "r", "type": "quantitative", "scale": {"domain": [0.985, 0.998], "nice": false, "zero": false}, "axis": null}}}
      ]
    }
  ]
}
